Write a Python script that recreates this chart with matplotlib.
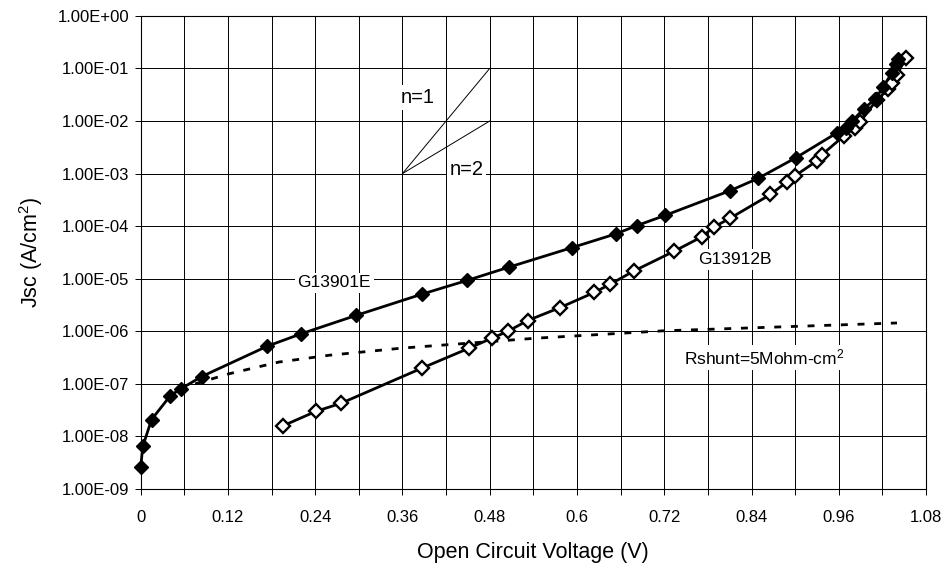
import matplotlib
matplotlib.use('Agg')
import matplotlib.pyplot as plt
from matplotlib.ticker import FixedLocator, FuncFormatter, NullFormatter

plt.rcParams['font.family'] = ['Liberation Sans', 'DejaVu Sans']
plt.rcParams['mathtext.fontset'] = 'custom'
plt.rcParams['mathtext.rm'] = 'Liberation Sans'
plt.rcParams['mathtext.it'] = 'Liberation Sans'

# G13901E (filled diamonds)
v_901 = [0.0, 0.003, 0.015, 0.041, 0.055, 0.084, 0.174, 0.220, 0.296, 0.387,
         0.449, 0.507, 0.593, 0.653, 0.682, 0.721, 0.810, 0.849, 0.901, 0.957,
         0.970, 0.978, 0.994, 1.010, 1.021, 1.033, 1.038, 1.042]
j_901 = [2.6e-9, 6.5e-9, 2.1e-8, 6.0e-8, 8.0e-8, 1.38e-7, 5.2e-7, 8.9e-7, 2.0e-6, 5.1e-6,
         9.3e-6, 1.67e-5, 3.9e-5, 7.1e-5, 1.02e-4, 1.6e-4, 4.7e-4, 8.1e-4, 2.0e-3, 5.9e-3,
         7.5e-3, 9.8e-3, 1.7e-2, 2.6e-2, 4.4e-2, 8.3e-2, 0.12, 0.15]

# G13912B (open diamonds)
v_912 = [0.196, 0.241, 0.276, 0.387, 0.452, 0.483, 0.505, 0.532, 0.576, 0.624,
         0.646, 0.678, 0.733, 0.772, 0.788, 0.810, 0.866, 0.889, 0.900, 0.930,
         0.937, 0.967, 0.982, 0.989, 1.012, 1.028, 1.033, 1.040, 1.052]
j_912 = [1.6e-8, 3.0e-8, 4.3e-8, 2.0e-7, 4.8e-7, 7.4e-7, 1.0e-6, 1.6e-6, 2.8e-6, 5.5e-6,
         7.9e-6, 1.4e-5, 3.3e-5, 6.3e-5, 9.6e-5, 1.4e-4, 4.0e-4, 7.0e-4, 9.1e-4, 1.75e-3,
         2.3e-3, 5.2e-3, 7.5e-3, 9.5e-3, 2.5e-2, 4.0e-2, 5.2e-2, 7.6e-2, 0.158]

# shunt leakage line
v_shunt = [0.075, 0.121, 0.19, 0.259, 0.36, 0.544, 0.718, 1.04]
j_shunt = [1.0e-7, 1.55e-7, 2.6e-7, 3.5e-7, 4.8e-7, 7.4e-7, 1.02e-6, 1.44e-6]

# ideality guide lines
v_guide = [0.36, 0.48]
j_n1 = [1e-3, 1e-1]
j_n2 = [1e-3, 1e-2]

fig = plt.figure(figsize=(9.44, 5.66), dpi=100)
ax = fig.add_axes([0.149, 0.136, 0.832, 0.836])

ax.set_yscale('log')
ax.set_xlim(0, 1.08)
ax.set_ylim(1e-9, 1e0)

ax.xaxis.set_major_locator(FixedLocator([0.12 * i for i in range(10)]))
ax.xaxis.set_minor_locator(FixedLocator([0.06 + 0.12 * i for i in range(9)]))
ax.xaxis.set_minor_formatter(NullFormatter())
ax.xaxis.set_major_formatter(FuncFormatter(lambda v, p: f'{v:.2f}'.rstrip('0').rstrip('.')))
ax.yaxis.set_major_locator(FixedLocator([10.0 ** k for k in range(-9, 1)]))
ax.yaxis.set_minor_locator(FixedLocator([]))
ax.yaxis.set_major_formatter(FuncFormatter(lambda v, p: f'{v:.2E}'))

ax.grid(True, which='both', color='black', linewidth=0.7)
ax.set_axisbelow(True)
ax.tick_params(axis='both', which='both', direction='out', length=4, width=0.7,
               labelsize=12)
ax.tick_params(axis='x', pad=11)
ax.tick_params(axis='y', pad=4)
for s in ax.spines.values():
    s.set_linewidth(0.8)

ax.plot(v_shunt, j_shunt, color='black', linestyle=(0, (2.5, 3.5)), linewidth=2.0, zorder=2)

ax.plot(v_guide, j_n1, color='black', linewidth=0.7, zorder=2)
ax.plot(v_guide, j_n2, color='black', linewidth=0.7, zorder=2)

ax.plot(v_901, j_901, color='black', linewidth=2.0, marker='D', markersize=7.5,
        markerfacecolor='black', markeredgecolor='black', zorder=4, clip_on=False)
ax.plot(v_912, j_912, color='black', linewidth=2.0, marker='D', markersize=7.5,
        markerfacecolor='white', markeredgecolor='black', markeredgewidth=1.7, zorder=3,
        clip_on=False)

box = dict(facecolor='white', edgecolor='none', pad=2)
ax.text(0.381, 2.8e-2, 'n=1', fontsize=14.5, ha='center', va='center', bbox=box, zorder=3)
ax.text(0.448, 1.2e-3, 'n=2', fontsize=14.5, ha='center', va='center', bbox=box, zorder=3)
ax.text(0.266, 8.3e-6, 'G13901E', fontsize=12.5, ha='center', va='center', bbox=box, zorder=3)
ax.text(0.817, 2.3e-5, 'G13912B', fontsize=12.5, ha='center', va='center', bbox=box, zorder=3)
ax.text(0.858, 3.2e-7, 'Rshunt=5Mohm-cm$^2$', fontsize=12.5, ha='center', va='center',
        bbox=box, zorder=3)

ax.set_xlabel('Open Circuit Voltage (V)', fontsize=15.5, labelpad=12)
ax.set_ylabel('Jsc (A/cm$^2$)', fontsize=15.5, labelpad=9)

fig.savefig('out.png', dpi=100)
